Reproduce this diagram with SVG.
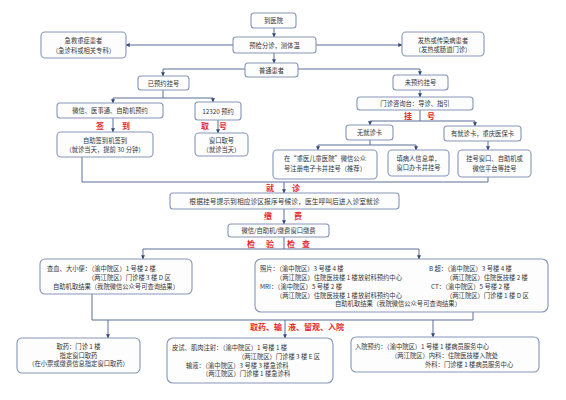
<svg xmlns="http://www.w3.org/2000/svg" width="566" height="400" viewBox="0 0 566 400">
<style>
.b{fill:#fdfdfe;stroke:#8596b8;stroke-width:1.1}
.t{font-family:"Noto Sans CJK SC","Noto Sans",sans-serif;font-size:6.3px;fill:#363636}
.c{text-anchor:middle}
.r{font-family:"Noto Sans CJK SC","Noto Sans",sans-serif;font-size:8px;font-weight:bold;fill:#e5282d;text-anchor:middle}
.l{fill:none;stroke:#5b6e98;stroke-width:1}
.a{marker-end:url(#ah)}
</style>
<defs>
<marker id="ah" viewBox="0 0 6 6" refX="5.5" refY="3" markerWidth="4" markerHeight="4" orient="auto" markerUnits="userSpaceOnUse">
<path d="M0,0 L6,3 L0,6 z" fill="#34497a"/>
</marker>
</defs>
<rect width="566" height="400" fill="#ffffff"/>

<g id="connectors">
<path class="l a" d="M274,28 V37"/>
<path class="l a" d="M233,45 H126"/>
<path class="l a" d="M316,45 H402"/>
<path class="l a" d="M274,53 V63"/>
<path class="l a" d="M245,69 H163 V76"/>
<path class="l a" d="M298,69 H420 V75"/>
<path class="l" d="M163,90 V98 M113,98 H213"/>
<path class="l a" d="M113,98 V103"/>
<path class="l a" d="M213,98 V102"/>
<path class="l a" d="M113,118 V132"/>
<path class="l a" d="M218,120 V133"/>
<path class="l a" d="M420,90 V97"/>
<path class="l" d="M420,110 V121 M370,121 H475"/>
<path class="l a" d="M370,121 V125"/>
<path class="l a" d="M475,121 V126"/>
<path class="l" d="M370,140 V145 M318,145 H416"/>
<path class="l a" d="M318,145 V150"/>
<path class="l a" d="M416,145 V150"/>
<path class="l a" d="M488,141 V150"/>
<path class="l" d="M82,157 V182 H488 V177"/>
<path class="l a" d="M284,182 V193"/>
<path class="l a" d="M284,209 V224"/>
<path class="l" d="M284,237 V249 M143,249 H419"/>
<path class="l a" d="M143,249 V259"/>
<path class="l a" d="M419,249 V259"/>
<path class="l" d="M92,294 V320 H473 V312"/>
<path class="l a" d="M108,320 V338"/>
<path class="l a" d="M285,320 V338"/>
<path class="l a" d="M433,320 V337"/>
</g>

<g id="labels">
<text class="r" x="100" y="129">签</text><text class="r" x="126" y="129">到</text>
<text class="r" x="205" y="129">取</text><text class="r" x="223" y="129">号</text>
<text class="r" x="408" y="119">挂</text><text class="r" x="431" y="119">号</text>
<text class="r" x="270" y="190.5">就</text><text class="r" x="296" y="190.5">诊</text>
<text class="r" x="268" y="218.5">缴</text><text class="r" x="298" y="218.5">费</text>
<text class="r" x="251" y="247">检</text><text class="r" x="270" y="247">验</text>
<text class="r" x="291" y="247">检</text><text class="r" x="306" y="247">查</text>
<text class="r" x="266" y="330">取药、输</text><text class="r" x="316" y="330">液、留观、入院</text>
</g>

<g id="n_arrive"><rect class="b" x="251" y="13" width="45" height="15" rx="3"/>
<text class="t c" x="273.5" y="23">到医院</text></g>

<g id="n_triage"><rect class="b" x="233" y="37" width="83" height="16" rx="3"/>
<text class="t c" x="274.5" y="47.5">预检分诊，测体温</text></g>

<g id="n_emergency"><rect class="b" x="41" y="32" width="85" height="26" rx="4"/>
<text class="t c" x="83.5" y="43">急救重症患者</text>
<text class="t c" x="83.5" y="52.5">（急诊科或相关专科）</text></g>

<g id="n_fever"><rect class="b" x="402" y="32" width="82" height="24" rx="4"/>
<text class="t c" x="443" y="42.5">发热或传染病患者</text>
<text class="t c" x="443" y="51.5">（发热或肠道门诊）</text></g>

<g id="n_normal"><rect class="b" x="245" y="63" width="53" height="14" rx="3"/>
<text class="t c" x="271.5" y="72.5">普通患者</text></g>

<g id="n_booked"><rect class="b" x="138" y="76" width="51" height="14" rx="3"/>
<text class="t c" x="163.5" y="85.5">已预约挂号</text></g>

<g id="n_unbooked"><rect class="b" x="393" y="75" width="55" height="15" rx="3"/>
<text class="t c" x="420.5" y="85">未预约挂号</text></g>

<g id="n_wechat"><rect class="b" x="57" y="103" width="106" height="15" rx="3"/>
<text class="t c" x="110" y="113">微信、医事通、自助机预约</text></g>

<g id="n_checkin"><rect class="b" x="57" y="132" width="96" height="25" rx="4"/>
<text class="t c" x="105" y="142.5">自助签到机签到</text>
<text class="t c" x="105" y="152">（就诊当天，提前 30 分钟）</text></g>

<g id="n_12320"><rect class="b" x="195" y="102" width="46" height="18" rx="3"/>
<text class="t c" x="218" y="113.5">12320 预约</text></g>

<g id="n_window"><rect class="b" x="195" y="133" width="53" height="23" rx="4"/>
<text class="t c" x="221.5" y="142.5">窗口取号</text>
<text class="t c" x="221.5" y="151.5">（就诊当天）</text></g>

<g id="n_desk"><rect class="b" x="357" y="97" width="116" height="13" rx="3"/>
<text class="t c" x="415" y="106">门诊咨询台：导诊、指引</text></g>

<g id="n_nocard"><rect class="b" x="346" y="125" width="47" height="15" rx="3"/>
<text class="t c" x="369.5" y="135">无就诊卡</text></g>

<g id="n_card"><rect class="b" x="444" y="126" width="77" height="15" rx="3"/>
<text class="t c" x="482.5" y="136">有就诊卡，重庆医保卡</text></g>

<g id="n_wx"><rect class="b" x="273" y="150" width="104" height="29" rx="4"/>
<text class="t c" x="325" y="161">在“重医儿童医院”微信公众</text>
<text class="t c" x="325" y="171">号注册电子卡并挂号（推荐）</text></g>

<g id="n_fill"><rect class="b" x="388" y="150" width="61" height="26" rx="4"/>
<text class="t c" x="418.5" y="160.5">填病人信息单，</text>
<text class="t c" x="418.5" y="170">窗口办卡并挂号</text></g>

<g id="n_regwin"><rect class="b" x="458" y="150" width="73" height="27" rx="4"/>
<text class="t c" x="494.5" y="160.5">挂号窗口、自助机或</text>
<text class="t c" x="494.5" y="170.5">微信平台等挂号</text></g>

<g id="n_visit"><rect class="b" x="170" y="193" width="229" height="16" rx="3"/>
<text class="t c" x="284.5" y="203.5" style="font-size:6.8px">根据挂号提示到相应诊区报序号候诊，医生呼叫后进入诊室就诊</text></g>

<g id="n_pay"><rect class="b" x="228" y="224" width="101" height="13" rx="3"/>
<text class="t c" x="278.5" y="233">微信/自助机/缴费窗口缴费</text></g>

<g id="n_blood"><rect class="b" x="40" y="259" width="152" height="35" rx="5"/>
<text class="t" x="47" y="270.5">查血、大小便：（渝中院区）1 号楼 2 楼</text>
<text class="t" x="88" y="279.5">（两江院区）门诊楼 3 楼 D 区</text>
<text class="t" x="53" y="288.5">自助机取结果（我院微信公众号可查询结果）</text></g>

<g id="n_imaging"><rect class="b" x="255" y="259" width="293" height="53" rx="6"/>
<text class="t" x="260" y="271">照片：（渝中院区）3 号楼 4 楼</text>
<text class="t" x="276" y="280">（两江院区）住院医技楼 1 楼放射科预约中心</text>
<text class="t" x="260" y="289">MRI：（渝中院区）5 号楼 2 楼</text>
<text class="t" x="276" y="298">（两江院区）住院医技楼 1 楼放射科预约中心</text>
<text class="t" x="335" y="306">自助机取结果（我院微信公众号可查询结果）</text>
<text class="t" x="429" y="271">B 超：（渝中院区）3 号楼 4 楼</text>
<text class="t" x="446" y="280">（两江院区）住院医技楼 2 楼</text>
<text class="t" x="431" y="289">CT：（渝中院区）5 号楼 2 楼</text>
<text class="t" x="446" y="298">（两江院区）门诊楼 1 楼 D 区</text></g>

<g id="n_pharmacy"><rect class="b" x="17" y="338" width="123" height="35" rx="5"/>
<text class="t c" x="78.5" y="349">取药：门诊 1 楼</text>
<text class="t c" x="78.5" y="357.5">指定窗口取药</text>
<text class="t c" x="78.5" y="366">（在小票或缴费信息指定窗口取药）</text></g>

<g id="n_injection"><rect class="b" x="167" y="338" width="166" height="45" rx="6"/>
<text class="t" x="172" y="349.5">皮试、肌肉注射：（渝中院区）1 号楼 1 楼</text>
<text class="t" x="238" y="359">（两江院区）门诊楼 3 楼 E 区</text>
<text class="t" x="186" y="367.5">输液：（渝中院区）3 号楼 3 楼急诊科</text>
<text class="t" x="202" y="376">（两江院区）门诊楼 1 楼急诊科</text></g>

<g id="n_admission"><rect class="b" x="351" y="337" width="188" height="35" rx="5"/>
<text class="t" x="355" y="348.5">入院预约：（渝中院区）1 号楼 1 楼病员服务中心</text>
<text class="t" x="391" y="357.5">（两江院区）内科：住院医技楼入院处</text>
<text class="t" x="425" y="366.5">外科：门诊楼 1 楼病员服务中心</text></g>
</svg>
